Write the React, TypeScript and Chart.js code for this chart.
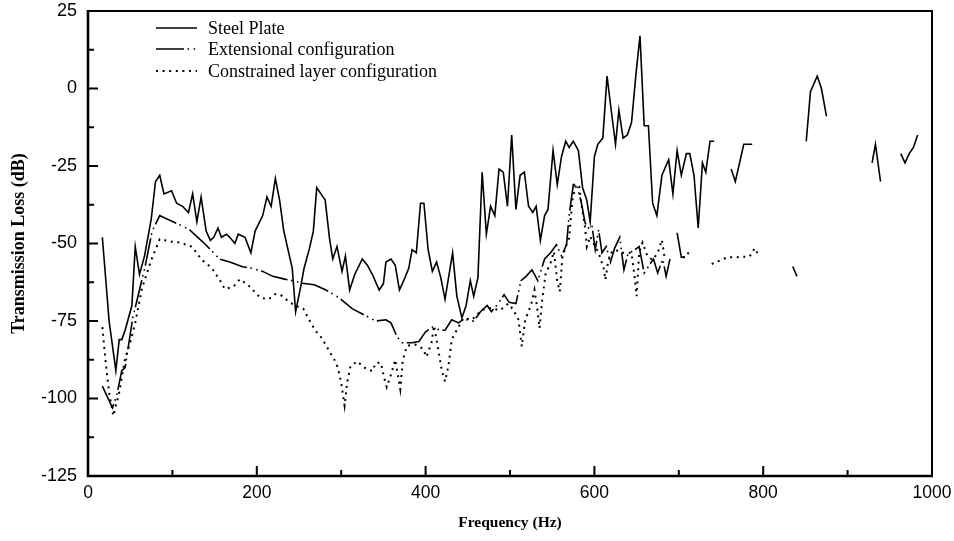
import React, { useEffect, useRef } from "react";
import { Chart, registerables } from "chart.js";

Chart.register(...registerables);

// ---- Data (Hz, dB) ----
const steelFreq = [
  17, 25, 33, 37, 40, 44, 52, 56, 61, 67, 75, 80, 85, 90, 99, 105, 112, 119, 124, 129,
  134, 140, 145, 149, 154, 158, 164, 168, 174, 178, 186, 193, 198, 207, 212, 217, 222, 227, 232, 242,
  246, 252, 256, 262, 267, 271, 276, 281, 286, 290, 295, 301, 305, 310, 316, 325, 331, 337, 345, 350,
  353, 359, 364, 369, 374, 380, 384, 389, 394, 398, 403, 408, 413, 418, 423, 432, 437, 443, 448, 453,
  457, 462, 467, 472, 477, 482, 487, 492, 497, 502, 507, 512, 517, 522, 527, 531, 536, 541, 545, 551,
  556, 561, 566, 570, 575, 581, 586, 591, 595, 600, 604, 610, 615, 619, 625, 629, 634, 639, 644, 649,
  654, 659, 664, 669, 674, 680, 688, 693, 698, 703, 709, 713, 718, 723, 728, 732, 737, 742, 750,
  762, 767, 777, 787, 820,
  851, 856, 864, 869, 875, 900,
  929, 933, 939, 950,
  963, 968, 973, 978, 983,
];
const steelTL = [
  -48, -75, -91, -81, -81, -78, -70, -51, -60, -54, -42, -30, -28, -34, -33, -37, -38, -40, -34, -43,
  -35, -46, -49, -48, -45, -48, -47, -48, -50, -47, -48, -53, -46, -41, -35, -38, -29, -36, -46, -58,
  -72, -64, -58, -52, -46, -32, -34, -36, -48, -55, -51, -59, -54, -65, -60, -55, -57, -60, -65, -63,
  -56, -55, -57, -65, -62, -58, -52, -53, -37, -37, -52, -59, -56, -61, -68, -53, -67, -74, -70, -62,
  -67, -61, -27, -47, -38, -41, -26, -27, -38, -15, -39, -28, -27, -38, -40, -38, -49, -41, -39, -20,
  -31, -22, -17, -19, -17, -20, -32, -36, -43, -22, -18, -16, 4, -5, -18, -7, -16, -15, -11, 4,
  17, -12, -12, -37, -41, -28, -23, -34, -20, -28, -21, -21, -28, -45, -24, -27, -17, -17, null,
  -26, -30, -18, -18, null,
  -17, -1, 4, 0, -9, null,
  -24, -18, -30, null,
  -21, -24, -21, -19, -15,
];

const extFreq = [
  17, 29, 34, 40, 44, 53, 61, 68, 76, 85, 93, 109, 120, 130, 138, 156, 168, 183, 195, 207,
  219, 233, 246, 254, 268, 282, 298, 313, 327, 341, 353, 359, 366, 372, 384, 392, 400, 408, 418, 423,
  431, 439, 445, 457, 465, 473, 478, 487, 493, 499, 507, 513, 519, 526, 533, 541, 548, 555, 561, 567,
  570, 575, 579, 585, 589, 593, 597, 601, 605, 609, 614, 619, 624, 630, 635, 640, 645, 653, 659, 665,
  670, 675, 681, 685, 690, 694,
  698, 703, 708, 770,
  835, 840,
];
const extTL = [
  -96, -103, -99, -91, -90, -74, -65, -57, -46, -41, -42, -44, -45.5, -48, -50, -55, -56, -57.5, -58, -59,
  -60.6, -61.5, -62.2, -62.8, -63.3, -65, -67.6, -71, -73, -75, -74.6, -75.6, -80, -82, -82, -81.6, -78.5, -77, -78, -78,
  -74.6, -75.6, -74.4, -75, -72, -70, -72, -69, -66.5, -69, -69.4, -62, -60.6, -58.5, -62, -55, -53, -50.4, -54, -50.4,
  -41, -31, -31, -37.5, -43.4, -45, -44, -52, -45.6, -53, -51, -56, -51.5, -48, -58.5, -53, -52.6, -51, -59.5, -57,
  -55, -59.5, -55, -60.6, -54.4, null,
  -46.6, -54.4, -54.4, null,
  -57.4, -60.6,
];

const conFreq = [
  17, 21, 25, 30, 37, 44, 50, 56, 64, 75, 85, 99, 109, 123, 135, 147, 157, 162, 172, 180,
  192, 204, 214, 222, 228, 239, 248, 255, 264, 270, 277, 286, 292, 296, 300, 304, 307, 311, 319, 327,
  337, 341, 347, 351, 354, 359, 364, 370, 373, 378, 388, 397, 401, 407, 410, 415, 419, 423, 427, 431,
  437, 445, 455, 467, 478, 488, 498, 504, 510, 514, 518, 522, 526, 529, 532, 535, 538, 542, 548, 552,
  556, 559, 562, 566, 570, 574, 578, 582, 585, 589, 591, 595, 599, 605, 611, 613, 616, 620, 625, 631,
  638, 644, 648, 650, 653, 657, 663, 669, 675, 680, 683, 694,
  705, 709, 713, 726,
  739, 758, 770, 784, 790, 794,
];
const conTL = [
  -77, -88.5, -98, -105.6, -98, -87, -82, -75.6, -64.4, -55.3, -48.6, -49.4, -49.7, -51, -55.3, -58, -62.2, -64.7, -64, -61.5,
  -64, -67.5, -68, -66.3, -66.5, -69, -70.3, -71, -75.6, -78.3, -80.5, -84.8, -87.5, -90, -95, -102.3, -95, -89.6, -88, -90,
  -91.2, -88.5, -88.5, -93.4, -96.3, -92.3, -87.5, -97, -87.5, -83, -82.6, -84, -86.6, -82, -76.5, -84.2, -90.7, -94.5, -89.6, -81,
  -77.8, -74, -74.6, -71.4, -70.8, -71.6, -69.4, -71.4, -74.6, -83.2, -74.6, -72, -68.7, -65, -70.3, -77.3, -68.7, -60, -56.3, -52.6,
  -62.2, -65.5, -54.7, -51, -48.3, -36, -31, -31.6, -38, -45, -51, -47.7, -50, -53, -58, -61.7, -56.3, -53, -52, -53,
  -53, -53, -61.7, -67, -53, -49.7, -54.2, -55.3, -53, -48.8, -54.2, null,
  -54.4, -54.4, -52, null,
  -56.6, -54.4, -54.4, -54.2, -51.5, -53.6,
];

const seriesNames = ["Steel Plate", "Extensional configuration", "Constrained layer configuration"];

const xLabelTicks = [0, 200, 400, 600, 800, 1000];
const xMinorTicks = [100, 300, 500, 700, 900];
const yLabelTicks = [25, 0, -25, -50, -75, -100, -125];
const yMinorTicks = [12.5, -12.5, -37.5, -62.5, -87.5, -112.5];

const xTitle = "Frequency (Hz)";
const yTitle = "Transmission Loss (dB)";

const EXT_DASH = [28, 3.5, 1.6, 4.5, 1.6, 3.5];
const CON_DASH = [2, 4.6];

const toPoints = (xs: number[], ys: (number | null)[]) => xs.map((x, i) => ({ x, y: ys[i] }));

const framePlugin = {
  id: "frameTicksLegend",
  afterDatasetsDraw(chart: any) {
    const { ctx, chartArea, scales } = chart;
    const { left, right, top, bottom } = chartArea;
    const x = scales.x;
    const y = scales.y;
    ctx.save();
    ctx.strokeStyle = "#000";
    ctx.setLineDash([]);
    // top & right
    ctx.lineWidth = 2;
    ctx.beginPath();
    ctx.moveTo(left, top);
    ctx.lineTo(right, top);
    ctx.lineTo(right, bottom);
    ctx.stroke();
    // left & bottom
    ctx.lineWidth = 2.6;
    ctx.beginPath();
    ctx.moveTo(left, top - 1);
    ctx.lineTo(left, bottom);
    ctx.lineTo(right + 1, bottom);
    ctx.stroke();
    // ticks (inward)
    ctx.lineWidth = 2;
    ctx.beginPath();
    xLabelTicks.forEach((v) => {
      const px = x.getPixelForValue(v);
      if (v === 0 || v === 1000) return;
      ctx.moveTo(px, bottom);
      ctx.lineTo(px, bottom - 10);
    });
    xMinorTicks.forEach((v) => {
      const px = x.getPixelForValue(v);
      ctx.moveTo(px, bottom);
      ctx.lineTo(px, bottom - 6);
    });
    yLabelTicks.forEach((v) => {
      if (v === 25 || v === -125) return;
      const py = y.getPixelForValue(v);
      ctx.moveTo(left, py);
      ctx.lineTo(left + 10, py);
    });
    yMinorTicks.forEach((v) => {
      const py = y.getPixelForValue(v);
      ctx.moveTo(left, py);
      ctx.lineTo(left + 6, py);
    });
    ctx.stroke();

    // legend
    const lx0 = 156;
    const lx1 = 197;
    const rows = [28, 49, 71];
    const dashes = [[], EXT_DASH, CON_DASH];
    const widths = [1.6, 1.6, 2];
    ctx.font = "18px 'Liberation Serif', 'Times New Roman', serif";
    ctx.fillStyle = "#000";
    ctx.textBaseline = "middle";
    ctx.textAlign = "left";
    rows.forEach((ry, i) => {
      ctx.lineWidth = widths[i];
      ctx.setLineDash(dashes[i]);
      ctx.beginPath();
      ctx.moveTo(lx0, ry);
      ctx.lineTo(lx1, ry);
      ctx.stroke();
      ctx.fillText(seriesNames[i], 208, ry + 1);
    });
    ctx.restore();
  },
};

export default function App() {
  const canvasRef = useRef<HTMLCanvasElement | null>(null);

  useEffect(() => {
    const canvas = canvasRef.current;
    if (!canvas) return;
    const chart = new Chart(canvas, {
      type: "line",
      data: {
        datasets: [
          {
            label: seriesNames[0],
            data: toPoints(steelFreq, steelTL),
            borderColor: "#000",
            borderWidth: 1.6,
            pointRadius: 0,
            tension: 0,
            spanGaps: false,
          },
          {
            label: seriesNames[1],
            data: toPoints(extFreq, extTL),
            borderColor: "#000",
            borderWidth: 1.6,
            borderDash: EXT_DASH,
            pointRadius: 0,
            tension: 0,
            spanGaps: false,
          },
          {
            label: seriesNames[2],
            data: toPoints(conFreq, conTL),
            borderColor: "#000",
            borderWidth: 2,
            borderDash: CON_DASH,
            pointRadius: 0,
            tension: 0,
            spanGaps: false,
          },
        ],
      },
      options: {
        responsive: false,
        animation: false,
        layout: { padding: { left: 0, right: 22, top: 11, bottom: 0 } },
        plugins: {
          legend: { display: false },
          tooltip: { enabled: false },
        },
        scales: {
          x: {
            type: "linear",
            min: 0,
            max: 1000,
            grid: { display: false, drawTicks: false },
            border: { display: false },
            afterBuildTicks: (scale: any) => {
              scale.ticks = xLabelTicks.map((v) => ({ value: v }));
            },
            afterFit: (scale: any) => {
              scale.height = 65;
              scale.paddingLeft = 0;
              scale.paddingRight = 0;
            },
            ticks: {
              autoSkip: false,
              maxRotation: 0,
              padding: 7,
              color: "#000",
              font: { family: "'Liberation Sans', Arial, sans-serif", size: 17.5 },
              callback: (v: any) => String(v),
            },
            title: {
              display: true,
              text: xTitle,
              color: "#000",
              font: { family: "'Liberation Serif', 'Times New Roman', serif", size: 15.5, weight: "bold" },
              padding: { top: 0, bottom: 9 },
            },
          },
          y: {
            type: "linear",
            min: -125,
            max: 25,
            grid: { display: false, drawTicks: false },
            border: { display: false },
            afterBuildTicks: (scale: any) => {
              scale.ticks = yLabelTicks.map((v) => ({ value: v }));
            },
            afterFit: (scale: any) => {
              scale.width = 88;
              scale.paddingTop = 0;
              scale.paddingBottom = 0;
            },
            ticks: {
              autoSkip: false,
              padding: 11,
              color: "#000",
              font: { family: "'Liberation Sans', Arial, sans-serif", size: 18 },
              callback: (v: any) => String(v),
            },
            title: {
              display: true,
              text: yTitle,
              color: "#000",
              font: { family: "'Liberation Serif', 'Times New Roman', serif", size: 18, weight: "bold" },
              padding: { top: 9, bottom: 0 },
            },
          },
        },
      },
      plugins: [framePlugin],
    });
    return () => chart.destroy();
  }, []);

  return (
    <div style={{ position: "fixed", left: 0, top: 0, width: 954, height: 541, background: "#fff" }}>
      <canvas ref={canvasRef} width={954} height={541} style={{ display: "block" }} />
    </div>
  );
}
